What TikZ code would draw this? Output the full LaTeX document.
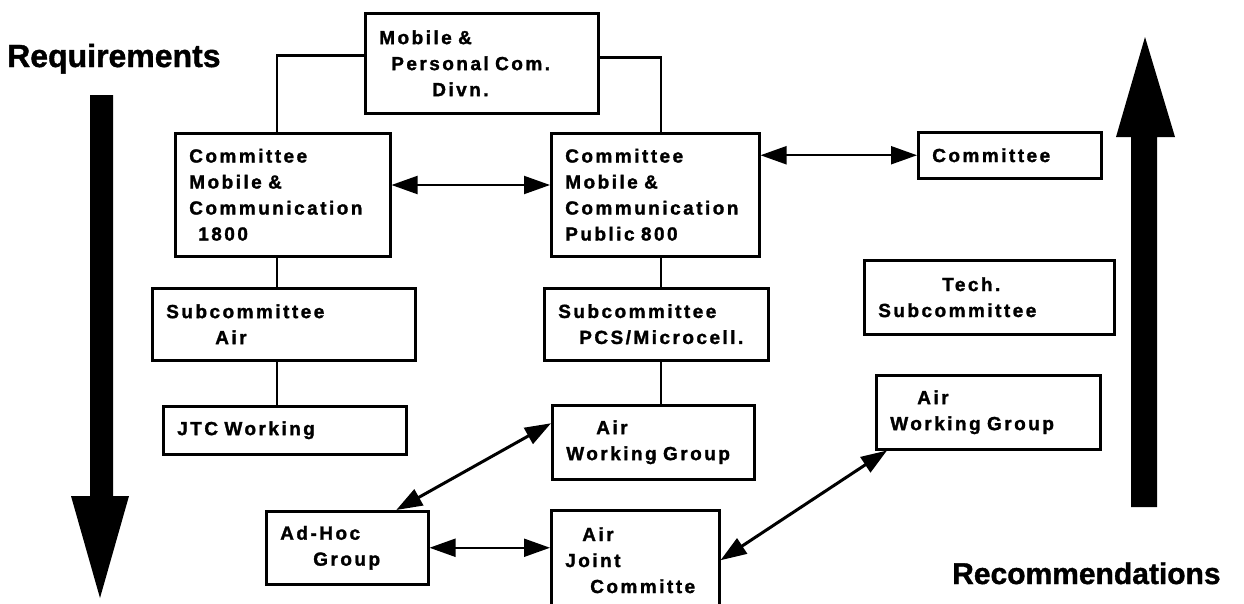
\documentclass[tikz,border=0pt]{standalone}
\usepackage{fontspec}
\setmainfont{Liberation Sans}[BoldFeatures={FakeBold=1.2}]
\newfontfamily\unitfont{Liberation Sans}[LetterSpace=13, BoldFeatures={FakeBold=1.5}]
\usetikzlibrary{arrows.meta}

\begin{document}
\begin{tikzpicture}[x=1pt, y=-1pt,
    unit/.style={draw, line width=2.5pt, anchor=north west, align=left, inner xsep=14pt, inner ysep=0pt,
        font=\unitfont\bfseries\fontsize{19}{26}\selectfont},
    link/.style={line width=2.5pt},
    pair/.style={<->, >={Triangle[length=26pt,width=18pt]}, line width=2pt},
    caption/.style={anchor=base west, inner sep=0pt, font=\bfseries\fontsize{#1}{#1}\selectfont}]
    \useasboundingbox (0,0) rectangle (1244,603);

    % Boxes
    \node [unit, minimum width=233pt, minimum height=100pt, text width=205pt] (divn) at (364,12) {Mobile \&\\\hspace*{12pt}Personal Com.\\\hspace*{53pt}Divn.};
    \node [unit, minimum width=215pt, minimum height=123pt, text width=187pt] (cmA) at (174,132) {Committee\\Mobile \&\\Communication\\\hspace*{9pt}1800};
    \node [unit, minimum width=208pt, minimum height=123pt, text width=180pt] (cmB) at (550,132) {Committee\\Mobile \&\\Communication\\Public 800};
    \node [unit, minimum width=183pt, minimum height=46pt, text width=155pt] (com) at (917,131) {Committee};
    \node [unit, minimum width=263pt, minimum height=72pt, text width=235pt] (subA) at (151,287) {Subcommittee\\\hspace*{49pt}Air};
    \node [unit, minimum width=224pt, minimum height=72pt, text width=196pt] (subB) at (543,287) {Subcommittee\\\hspace*{21pt}PCS/Microcell.};
    \node [unit, minimum width=250pt, minimum height=74pt, text width=222pt] (tech) at (863,259) {\hspace*{64pt}Tech.\\Subcommittee};
    \node [unit, minimum width=243pt, minimum height=48pt, text width=215pt] (jtc) at (162,405) {JTC Working};
    \node [unit, minimum width=202pt, minimum height=74pt, text width=174pt] (awgB) at (551,404) {\hspace*{30pt}Air\\Working Group};
    \node [unit, minimum width=224pt, minimum height=74pt, text width=196pt] (awgC) at (875,374) {\hspace*{27pt}Air\\Working Group};
    \node [unit, minimum width=162pt, minimum height=73pt, text width=134pt] (adhoc) at (265,510) {Ad-Hoc\\\hspace*{33pt}Group};
    \node [unit, minimum width=168pt, minimum height=100pt, text width=140pt] (joint) at (550,509) {\hspace*{17pt}Air\\Joint\\\hspace*{25pt}Committe};

    % Tree lines
    \coordinate (spineA) at (277,0);
    \coordinate (spineB) at (661,0);
    \draw [link] ([yshift=8pt]divn.west) -| (cmA.north -| spineA);
    \draw [link] ([yshift=6pt]divn.east) -| (cmB.north -| spineB);
    \draw [link] (cmA.south -| spineA) -- (subA.north -| spineA);
    \draw [link] (subA.south -| spineA) -- (jtc.north -| spineA);
    \draw [link] (cmB.south -| spineB) -- (subB.north -| spineB);
    \draw [link] (subB.south -| spineB) -- (awgB.north -| spineB);

    % Two-way links
    \draw [pair] (cmA.east |- 0,185) -- (cmB.west |- 0,185);
    \draw [pair] (cmB.east |- com.west) -- (com.west);
    \draw [pair, line width=3pt] ([yshift=19pt]awgB.west) -- ([xshift=49pt]adhoc.north);
    \draw [pair] (adhoc.east) -- (adhoc.east -| joint.west);
    \draw [pair, line width=3pt] (joint.east) -- ([xshift=12pt]awgC.south west);

    % Side arrows
    \fill (90,95) -- (113,95) -- (113,496) -- (129,496) -- (100,598) -- (71,496) -- (90,496) -- cycle;
    \node [caption=32] (req) at (7,67) {Requirements};
    \fill (1131,507) -- (1157,507) -- (1157,137) -- (1175,137) -- (1145,37) -- (1116,137) -- (1131,137) -- cycle;
    \node [caption=30] (rec) at (952,584) {Recommendations};
\end{tikzpicture}
\end{document}
